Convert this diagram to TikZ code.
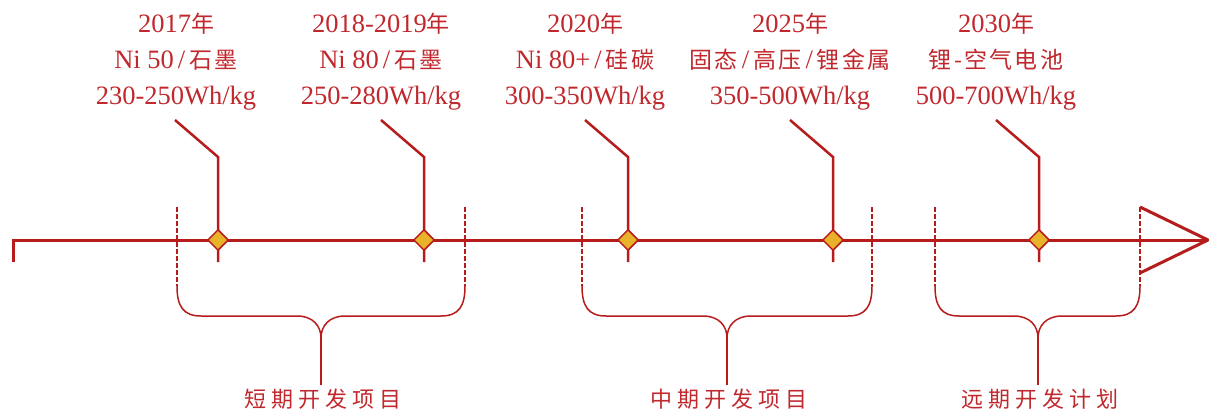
\documentclass[tikz,border=0pt]{standalone}
\usepackage{fontspec}
\setmainfont{Liberation Serif}
\newfontfamily\cjk[LetterSpace=10]{Noto Sans CJK SC}
\newfontfamily\cjkb[LetterSpace=22]{Noto Sans CJK SC}
\newcommand\cj[1]{{\cjk\fontsize{23}{36}\selectfont #1}}
\newcommand\slsp{\hspace{4pt}/\hspace{4pt}}
\usetikzlibrary{shapes.geometric}
\definecolor{tred}{HTML}{C0282D}
\definecolor{lred}{HTML}{B71C1C}
\definecolor{gold}{HTML}{E8B22A}
\tikzset{
  toptext/.style={text=tred, align=center, inner sep=0pt, font=\fontsize{26.5}{36}\selectfont},
  bottext/.style={text=tred, inner sep=0pt, font=\fontsize{22}{24}\selectfont\cjkb},
  mainline/.style={draw=lred, line width=3pt},
  callout/.style={draw=lred, line width=2.5pt},
  divider/.style={draw=lred, line width=1.3pt, dash pattern=on 5pt off 2pt},
  bracelin/.style={draw=lred, line width=1.5pt},
  marker/.style={diamond, draw=lred, fill=gold, line width=1.5pt, minimum width=21pt, minimum height=21pt, inner sep=0pt},
}
\begin{document}
\begin{tikzpicture}[x=1pt,y=-1pt]
\useasboundingbox (0,0) rectangle (1209,412);
% main axis
\coordinate (start) at (13,240);
\coordinate (tick) at (13,262);
\coordinate (tip) at (1208,240);
\coordinate (backtop) at (1140,207);
\coordinate (backbot) at (1140,273);
\draw[mainline, line join=miter] (tick) -- (start) -- (tip);
\draw[mainline, line join=round] (backtop) -- (tip) -- (backbot);
% dividers
\foreach \n/\x in {d1/177, d2/465, d3/582, d4/872, d5/935, d6/1140}{
  \coordinate (\n t) at (\x,207);
  \coordinate (\n b) at (\x,286);
  \draw[divider] (\n t) -- (\n b);
}
% braces
\foreach \n/\a/\b/\c in {b1/177/465/321, b2/582/872/727, b3/935/1140/1038}{
  \coordinate (\n l) at (\a,286);
  \coordinate (\n r) at (\b,286);
  \coordinate (\n m) at (\c,338);
  \coordinate (\n s) at (\c,385);
  \draw[bracelin] (\n l) .. controls (\a,306) and (\a+6,316) .. (\a+24,316)
     -- (\c-24,316) .. controls (\c-8,316) and (\c,326) .. (\n m)
     .. controls (\c,326) and (\c+8,316) .. (\c+24,316)
     -- (\b-24,316) .. controls (\b-6,316) and (\b,306) .. (\n r);
  \draw[bracelin] (\n m) -- (\n s);
}
\node[bottext] (l1) at (323,399) {短期开发项目};
\node[bottext] (l2) at (729,399) {中期开发项目};
\node[bottext] (l3) at (1040,399) {远期开发计划};
% markers and callouts
\foreach \n/\x in {m1/218, m2/424, m3/628, m4/833, m5/1039}{
  \coordinate (\n top) at (\x-43,120);
  \coordinate (\n bend) at (\x,157);
  \coordinate (\n low) at (\x,262);
  \draw[callout, line join=miter] (\n top) -- (\n bend) -- (\n low);
  \node[marker] (\n) at (\x,240) {};
}
% texts
\node[toptext] (t1) at (176,62) {2017\cj{年}\\Ni 50\slsp\cj{石墨}\\230-250Wh/kg};
\node[toptext] (t2) at (381,62) {2018-2019\cj{年}\\Ni 80\slsp\cj{石墨}\\250-280Wh/kg};
\node[toptext] (t3) at (585,62) {2020\cj{年}\\Ni 80+\slsp\cj{硅碳}\\300-350Wh/kg};
\node[toptext] (t4) at (790,62) {2025\cj{年}\\\cj{固态}\slsp\cj{高压}\slsp\cj{锂金属}\\350-500Wh/kg};
\node[toptext] (t5) at (996,62) {2030\cj{年}\\\cj{锂-空气电池}\\500-700Wh/kg};
\end{tikzpicture}
\end{document}
